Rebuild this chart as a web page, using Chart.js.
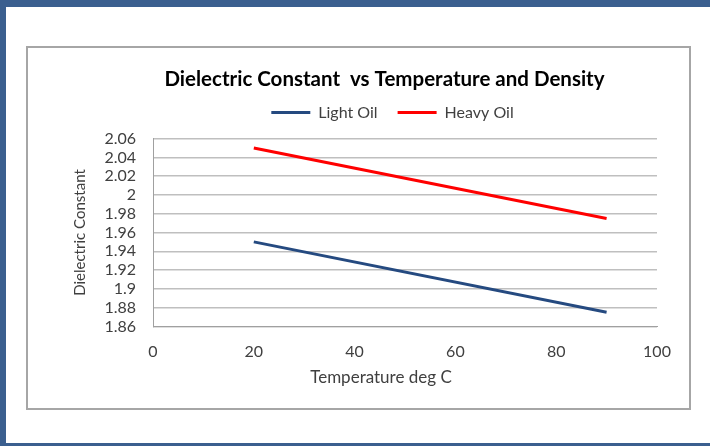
<!DOCTYPE html>
<html>
<head>
<meta charset="utf-8">
<script src="https://cdn.jsdelivr.net/npm/chart.js@4/dist/chart.umd.min.js"></script>
<style>
  html, body { margin: 0; padding: 0; background: #fff; }
  #frame {
    position: absolute; left: 0; top: 0; width: 710px; height: 446px;
    box-sizing: border-box;
    border-top: 7px solid #3b5f8f;
    border-left: 6px solid #3b5f8f;
    border-bottom: 3px solid #3b5f8f;
  }
  #box {
    position: absolute; left: 26px; top: 46px; width: 665px; height: 364px;
    box-sizing: border-box; border: 2px solid #a6a6a6;
  }
  #wrap { position: absolute; left: 0; top: 0; width: 661px; height: 360px; }
</style>
</head>
<body>
<div id="frame"></div>
<div id="box"><div id="wrap"><canvas id="dielectric"></canvas></div></div>
<script>
const ctx = document.getElementById('dielectric').getContext('2d')

// data
const temperatures = [20, 90]
const lightOil = [1.95, 1.875]
const heavyOil = [2.05, 1.975]
const yTicks = [1.86, 1.88, 1.9, 1.92, 1.94, 1.96, 1.98, 2, 2.02, 2.04, 2.06]

const FONT = 'Lato, "Liberation Sans", sans-serif'

// Excel centres title/legend/axis title a bit off the plot centre
const shiftPlugin = {
  id: 'shiftBoxes',
  beforeLayout: chart => {
    const lg = chart.legend
    if (lg && !lg._patched) {
      const fit = lg.fit
      lg.fit = function (...args) {
        fit.apply(this, args)
        this.height += 8 // extra gap under the legend
      }
      lg._patched = true
    }
  },
  afterLayout: chart => {
    chart.titleBlock.left += 27
    chart.titleBlock.right += 27
    chart.legend.left += 35
    chart.legend.right += 35
    const sc = chart.scales.x
    if (!sc._patched) {
      const orig = sc.drawTitle
      sc.drawTitle = function (...args) {
        this.left -= 24; this.right -= 24
        orig.apply(this, args)
        this.left += 24; this.right += 24
      }
      sc._patched = true
    }
  },
}

const config = {
  type: 'line',
  data: {
    datasets: [
      {
        label: 'Light Oil',
        data: temperatures.map((t, i) => ({ x: t, y: lightOil[i] })),
        borderColor: '#254a80',
        backgroundColor: '#254a80',
        borderWidth: 3,
        pointRadius: 0,
        tension: 0,
      },
      {
        label: 'Heavy Oil',
        data: temperatures.map((t, i) => ({ x: t, y: heavyOil[i] })),
        borderColor: '#ff0000',
        backgroundColor: '#ff0000',
        borderWidth: 3,
        pointRadius: 0,
        tension: 0,
      },
    ],
  },
  plugins: [shiftPlugin],
  options: {
    responsive: true,
    maintainAspectRatio: false,
    animation: false,
    layout: { padding: { left: 30, right: 32, top: 0, bottom: 16 } },
    plugins: {
      title: {
        display: true,
        text: 'Dielectric Constant  vs Temperature and Density',
        color: '#000',
        font: { family: FONT, size: 20.5, weight: 'bold' },
        padding: { top: 19, bottom: -7 },
      },
      legend: {
        labels: {
          color: '#404040',
          font: { family: FONT, size: 16 },
          usePointStyle: true,
          pointStyle: 'line',
          pointStyleWidth: 39,
          padding: 20,
        },
      },
      tooltip: { enabled: false },
    },
    scales: {
      x: {
        type: 'linear',
        min: 0,
        max: 100,
        ticks: { stepSize: 20, color: '#404040', font: { family: FONT, size: 16 }, padding: 16 },
        grid: { display: false, drawTicks: false },
        border: { color: '#a0a0a0', width: 1 },
        title: {
          display: true,
          text: 'Temperature deg C',
          color: '#404040',
          font: { family: FONT, size: 17 },
          padding: { top: -10, bottom: 4 },
        },
      },
      y: {
        min: 1.86,
        max: 2.06,
        afterBuildTicks: axis => {
          axis.ticks = yTicks.map(v => ({ value: v }))
        },
        afterFit: axis => {
          axis.width = 95
        },
        ticks: {
          autoSkip: false,
          color: '#404040',
          font: { family: FONT, size: 16 },
          padding: 17,
          callback: v => String(v),
        },
        grid: { color: '#bfbfbf', lineWidth: 1.5, drawTicks: false },
        border: { color: '#a0a0a0', width: 1 },
        title: {
          display: true,
          text: 'Dielectric Constant',
          color: '#404040',
          font: { family: FONT, size: 15 },
          padding: { top: 13 },
        },
      },
    },
  },
}
const dielectricChart = new Chart(ctx, config)
</script>
</body>
</html>
